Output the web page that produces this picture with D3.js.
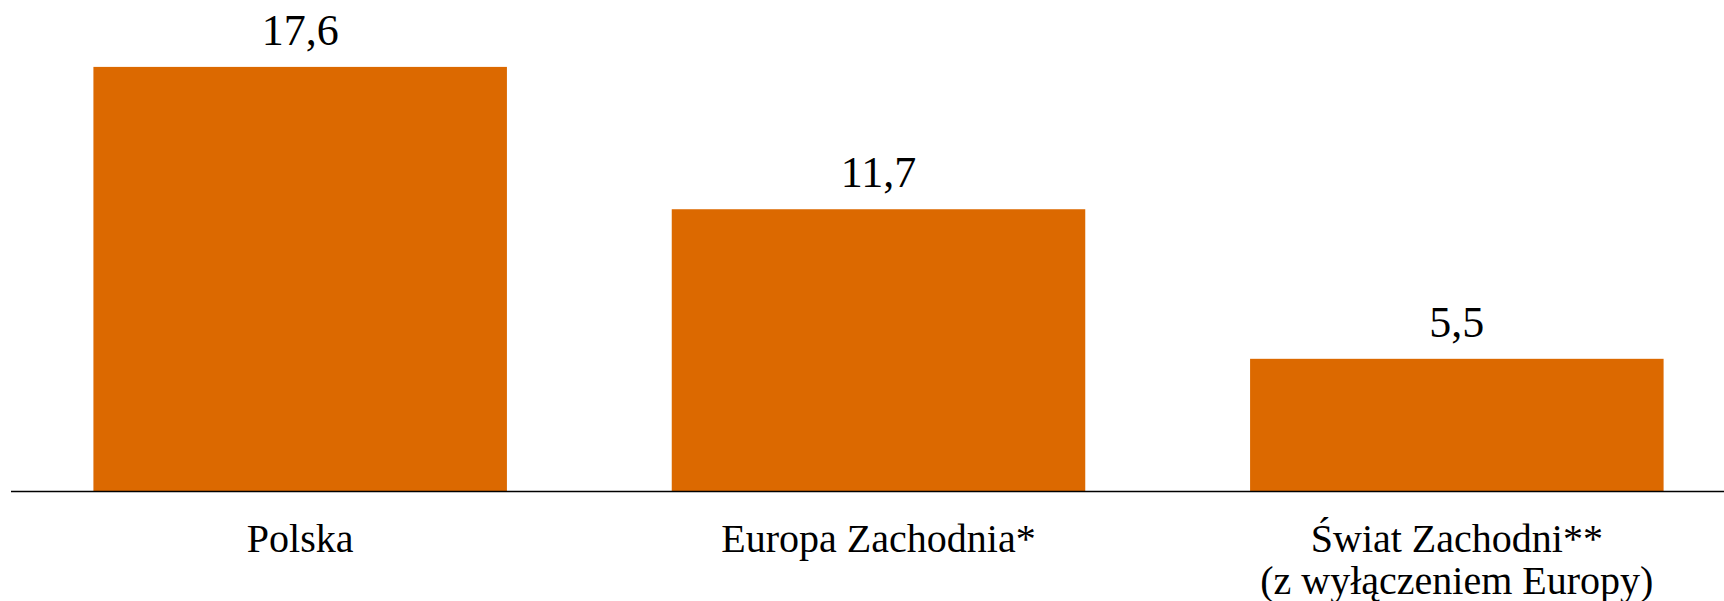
<!DOCTYPE html>
<html lang="pl">
<head>
<meta charset="utf-8">
<title>Wykres słupkowy</title>
<script src="https://cdn.jsdelivr.net/npm/d3@7"></script>
<style>
  body { margin: 0; background: #fff; }
  svg { display: block; }
</style>
</head>
<body>
<script>
// data
var categories = ["Polska", "Europa Zachodnia*", "Świat Zachodni**"];
var subLabels = ["", "", "(z wyłączeniem Europy)"];
var values = [17.6, 11.7, 5.5];
var valueLabels = ["17,6", "11,7", "5,5"];

var width = 1724;
var height = 601;
var baseline = 491.5;

var svg = d3.select("body")
  .append("svg")
  .attr("width", width)
  .attr("height", height);

// scales
var xScale = d3.scaleBand()
  .domain(categories)
  .range([11, 1746])
  .paddingInner(0.285)
  .paddingOuter(0.1425);

var yScale = d3.scaleLinear()
  .domain([0, 20])
  .range([baseline, 9]);

// bars
svg.selectAll("rect.bar")
  .data(values)
  .enter()
  .append("rect")
  .attr("class", "bar")
  .attr("fill", "#dc6900")
  .attr("x", function(d, i) { return xScale(categories[i]); })
  .attr("width", xScale.bandwidth())
  .attr("y", function(d) { return yScale(d); })
  .attr("height", function(d) { return yScale(0) - yScale(d); });

// value labels
svg.selectAll("text.value")
  .data(values)
  .enter()
  .append("text")
  .attr("class", "value")
  .attr("x", function(d, i) { return xScale(categories[i]) + xScale.bandwidth() / 2; })
  .attr("y", function(d) { return yScale(d) - 22; })
  .attr("text-anchor", "middle")
  .style("font-family", "'Liberation Serif', 'DejaVu Serif', serif")
  .style("font-size", "44px")
  .style("fill", "#000")
  .text(function(d, i) { return valueLabels[i]; });

// x axis
var xAxis = d3.axisBottom(xScale).tickSize(0).tickPadding(0);
var gx = svg.append("g")
  .attr("transform", "translate(0," + baseline + ")")
  .call(xAxis);

gx.select(".domain")
  .attr("d", "M11,0H" + width)
  .attr("stroke", "#000")
  .attr("stroke-width", 1.6);

gx.selectAll(".tick text").remove();

var ticks = gx.selectAll(".tick");
ticks.append("text")
  .attr("y", 60)
  .attr("text-anchor", "middle")
  .style("font-family", "'Liberation Serif', 'DejaVu Serif', serif")
  .style("font-size", "40px")
  .style("fill", "#000")
  .text(function(d) { return d; });

ticks.append("text")
  .attr("y", 102)
  .attr("text-anchor", "middle")
  .style("font-family", "'Liberation Serif', 'DejaVu Serif', serif")
  .style("font-size", "40px")
  .style("fill", "#000")
  .text(function(d, i) { return subLabels[i]; });
</script>
</body>
</html>
